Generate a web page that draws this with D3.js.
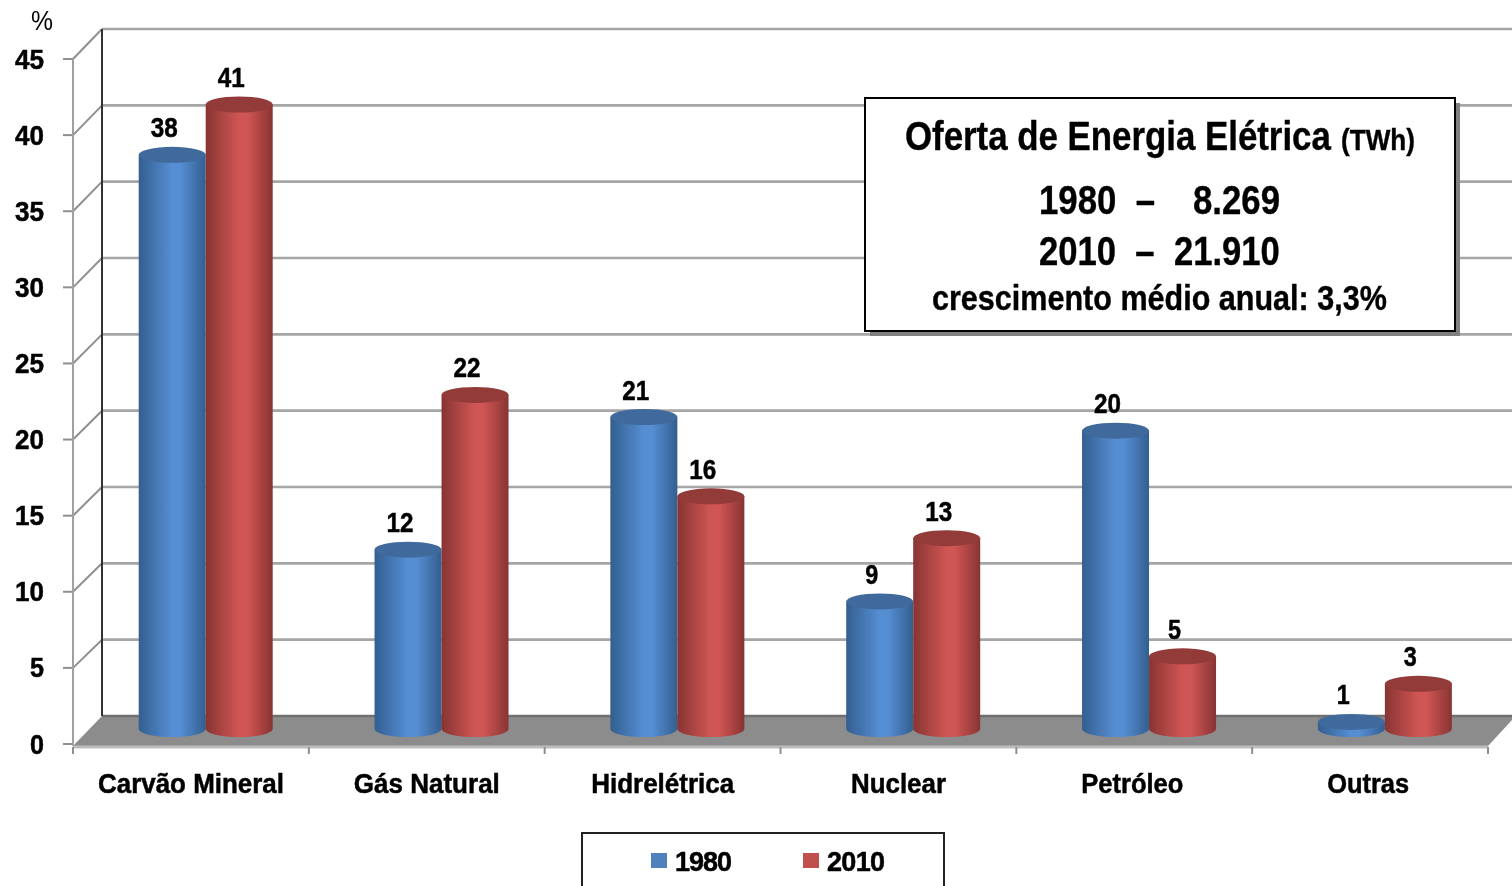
<!DOCTYPE html>
<html><head><meta charset="utf-8">
<script src="https://cdnjs.cloudflare.com/ajax/libs/d3/7.8.5/d3.min.js"></script>
<style>
html,body{margin:0;padding:0;background:#fff;overflow:hidden}
svg{display:block;font-family:"Liberation Sans",Arial,sans-serif;font-weight:bold}
</style></head><body><svg id="c" width="1512" height="886"></svg>
<script>
const categories=["Carvão Mineral","Gás Natural","Hidrelétrica","Nuclear","Petróleo","Outras"];
const seriesNames=["1980","2010"];
const heights1980=[37.6,11.7,20.4,8.3,19.5,0.4];
const heights2010=[40.9,21.85,15.2,12.45,4.7,2.9];
const labels1980=[38,12,21,9,20,1];
const labels2010=[41,22,16,13,5,3];
const yTicks=[0,5,10,15,20,25,30,35,40,45];
const boxLines=["1980  –","8.269","2010  –  21.910","crescimento médio anual: 3,3%"];
const colors={"1980":["#335f8f","#568ed4","#3f6a9c","#4f81bd"],"2010":["#883433","#d05654","#923b39","#c0504d"]};

const svg=d3.select("#c");
const defs=svg.append("defs");
const soft=defs.append("filter").attr("id","soft").attr("x","-5%").attr("y","-5%").attr("width","110%").attr("height","110%");
soft.append("feGaussianBlur").attr("stdDeviation",0.6);
const shapeSoft=defs.append("filter").attr("id","shapeSoft").attr("x","-10%").attr("y","-10%").attr("width","120%").attr("height","120%");
shapeSoft.append("feGaussianBlur").attr("stdDeviation",0.7);
seriesNames.forEach(s=>{
  const g=defs.append("linearGradient").attr("id","g"+s).attr("x1",0).attr("x2",1).attr("y1",0).attr("y2",0);
  [[0,colors[s][0]],[0.5,colors[s][1]],[0.62,colors[s][1]],[1,colors[s][0]]].forEach(([o,c])=>g.append("stop").attr("offset",o).attr("stop-color",c));
});

const yFront=d3.scaleLinear().domain([0,45]).range([744,59]);
const yBack=d3.scaleLinear().domain([0,45]).range([716,29]);
const yBar=d3.scaleLinear().domain([0,45]).range([728,42]);
const x=d3.scaleBand().domain(categories).range([73,1488]);
const xs=d3.scaleBand().domain(seriesNames).range([0,134]);
const backX=102, frontX=73, rightX=1512;
const barOffset=65.7;
const rx=33.5, ry=8;

const walls=svg.append("g").attr("filter","url(#shapeSoft)");
walls.append("path").attr("d",`M${frontX},${yFront(0)+2}L${backX},${yBack(0)}L${rightX},${yBack(0)}L${rightX},${yBack(0)+4}L${x.range()[1]},${yFront(0)+2}Z`).attr("fill","#8c8c8c");
walls.append("line").attr("x1",frontX).attr("x2",x.range()[1]).attr("y1",yFront(0)+3).attr("y2",yFront(0)+3).attr("stroke","#bdbdbd").attr("stroke-width",3);
yTicks.forEach(t=>{
  walls.append("line").attr("x1",backX).attr("x2",rightX).attr("y1",yBack(t)).attr("y2",yBack(t)).attr("stroke",t===0?"#6f6f6f":"#a6a6a6").attr("stroke-width",2.6);
  if(t>0) walls.append("line").attr("x1",frontX).attr("x2",backX).attr("y1",yFront(t)).attr("y2",yBack(t)).attr("stroke","#8f8f8f").attr("stroke-width",2);
  walls.append("line").attr("x1",frontX-10).attr("x2",frontX).attr("y1",yFront(t)).attr("y2",yFront(t)).attr("stroke","#8f8f8f").attr("stroke-width",2);
});
walls.append("line").attr("x1",frontX).attr("x2",frontX).attr("y1",yFront(45)).attr("y2",yFront(0)+2).attr("stroke","#a0a0a0").attr("stroke-width",2);
walls.append("line").attr("x1",backX).attr("x2",backX).attr("y1",yBack(45)).attr("y2",yBack(0)).attr("stroke","#333").attr("stroke-width",2);
categories.concat([null]).forEach(c=>{
  const px=c?x(c):x.range()[1];
  walls.append("line").attr("x1",px).attr("x2",px).attr("y1",yFront(0)+3).attr("y2",yFront(0)+10).attr("stroke","#8f8f8f").attr("stroke-width",2);
});

const bars=svg.append("g").attr("filter","url(#shapeSoft)");
function cyl(cat,s,val){
  const cx=x(cat)+barOffset+xs(s)+xs.bandwidth()/2, base=yBar(0)+1, top=yBar(val);
  const g=bars.append("g");
  g.append("path").attr("d",`M${cx-rx},${top}L${cx-rx},${base}A${rx},${ry} 0 0 0 ${cx+rx},${base}L${cx+rx},${top}Z`).attr("fill",`url(#g${s})`);
  g.append("ellipse").attr("cx",cx).attr("cy",top).attr("rx",rx).attr("ry",ry).attr("fill",colors[s][2]);
}
categories.forEach((c,i)=>{cyl(c,"1980",heights1980[i]);cyl(c,"2010",heights2010[i]);});

const txt=svg.append("g").attr("filter","url(#soft)").attr("fill","#000");
yTicks.forEach(t=>txt.append("text").attr("x",44).attr("y",yFront(t)+9.5).attr("text-anchor","end").attr("font-size",28).attr("textLength",t>=10?29:14).attr("lengthAdjust","spacingAndGlyphs").attr("stroke","#000").attr("stroke-width",0.5).text(t));
txt.append("text").attr("x",42).attr("y",30).attr("text-anchor","middle").attr("font-size",27).attr("font-weight","normal").attr("textLength",22).attr("lengthAdjust","spacingAndGlyphs").text("%");
const catW=[186,146,143,95,102,82];
const catShift=[0,0,0,0,-2,-2];
categories.forEach((c,i)=>txt.append("text").attr("x",x(c)+118+catShift[i]).attr("y",793).attr("text-anchor","middle").attr("font-size",27).attr("textLength",catW[i]).attr("lengthAdjust","spacingAndGlyphs").attr("stroke","#000").attr("stroke-width",0.5).text(c));
function lab(cat,s,val,l){
  const cx=x(cat)+barOffset+xs(s)+xs.bandwidth()/2-8;
  const w=String(l).length>1?27:13;
  txt.append("text").attr("x",cx).attr("y",yBar(val)-17.5).attr("text-anchor","middle").attr("font-size",28).attr("textLength",w).attr("lengthAdjust","spacingAndGlyphs").attr("stroke","#000").attr("stroke-width",0.5).text(l);
}
categories.forEach((c,i)=>{lab(c,"1980",heights1980[i],labels1980[i]);lab(c,"2010",heights2010[i],labels2010[i]);});

const boxG=svg.append("g");
boxG.append("rect").attr("x",870).attr("y",103).attr("width",590).attr("height",233).attr("fill","#808080").attr("filter","url(#shapeSoft)");
boxG.append("rect").attr("x",865).attr("y",98).attr("width",590).attr("height",233).attr("fill","#fff").attr("stroke","#000").attr("stroke-width",2);
const bt=boxG.append("g").attr("filter","url(#soft)").attr("fill","#000");
function t2(x0,y,size,w,s){
  const el=bt.append("text").attr("font-size",size).attr("stroke","#000").attr("stroke-width",0.4).style("white-space","pre").text(s);
  const sx=w/el.node().getComputedTextLength();
  el.attr("transform",`translate(${x0},${y}) scale(${sx},1)`);
}
t2(905,150,41,426,"Oferta de Energia Elétrica");
t2(1341,150,30,74,"(TWh)");
t2(1039,214,41,116,boxLines[0]);
t2(1193,214,41,87,boxLines[1]);
t2(1039,265,41,241,boxLines[2]);
t2(932,310,36,455,boxLines[3]);

const lg=svg.append("g");
lg.append("path").attr("d","M582,886L582,833L944,833L944,886").attr("fill","#fff").attr("stroke","#222").attr("stroke-width",2);
const legX=d3.scaleOrdinal().domain(seriesNames).range([651,803]);
const legT=svg.append("g").attr("filter","url(#soft)");
seriesNames.forEach(s=>{
  legT.append("rect").attr("x",legX(s)).attr("y",853).attr("width",16).attr("height",15).attr("fill",colors[s][3]);
  legT.append("text").attr("x",legX(s)+24).attr("y",871).attr("font-size",27).attr("textLength",s==="1980"?57:58).attr("lengthAdjust","spacing").attr("stroke","#000").attr("stroke-width",0.5).text(s);
});
</script></body></html>
